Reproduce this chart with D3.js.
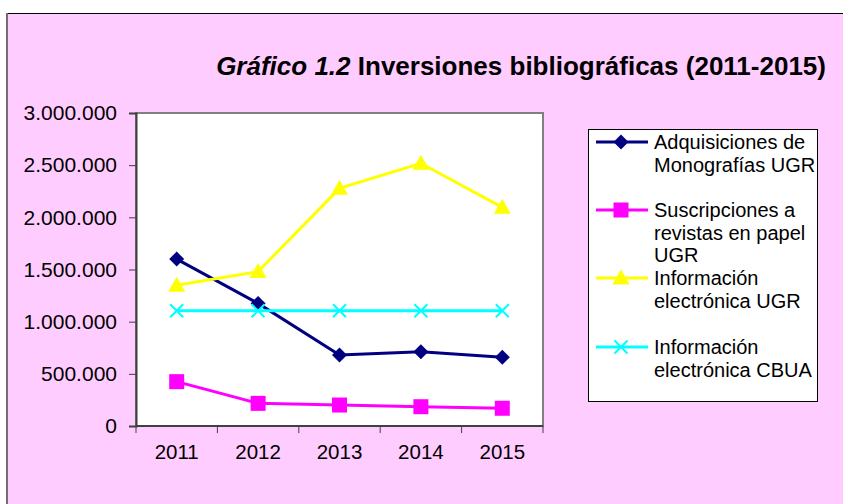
<!DOCTYPE html>
<html>
<head>
<meta charset="utf-8">
<script src="https://cdn.jsdelivr.net/npm/d3@7"></script>
<style>
  body { margin: 0; background: #fff; }
  svg { display: block; font-family: "Liberation Sans", Arial, sans-serif; }
</style>
</head>
<body>
<div id="chart"></div>
<script>
// data
const years = ["2011", "2012", "2013", "2014", "2015"];
const monografias = [1600000, 1175000, 680000, 712000, 658000];
const revistas = [425000, 217000, 201000, 185000, 170000];
const electronicaUGR = [1350000, 1480000, 2278000, 2518000, 2096000];
const electronicaCBUA = [1105000, 1105000, 1105000, 1105000, 1105000];
const yTicks = [0, 500000, 1000000, 1500000, 2000000, 2500000, 3000000];

const series = [
    { name: ["Adquisiciones de", "Monografías UGR"], values: monografias, color: "#000080", marker: "diamond" },
    { name: ["Suscripciones a", "revistas en papel", "UGR"], values: revistas, color: "#ff00ff", marker: "square" },
    { name: ["Información", "electrónica UGR"], values: electronicaUGR, color: "#ffff00", marker: "triangle" },
    { name: ["Información", "electrónica CBUA"], values: electronicaCBUA, color: "#00ffff", marker: "cross" }
];

const width = 843, height = 504;
const plot = { left: 136, right: 543, top: 113, bottom: 426 };

const svg = d3.select("#chart").append("svg")
    .attr("width", width)
    .attr("height", height);

// chart area background
svg.append("rect")
    .attr("x", 7).attr("y", 13.5)
    .attr("width", width).attr("height", height)
    .attr("fill", "#ffccff")
    .attr("stroke", "#000")
    .attr("stroke-width", 1);
svg.append("line")
    .attr("x1", 7).attr("x2", 7)
    .attr("y1", 13).attr("y2", height)
    .attr("stroke", "#707070").attr("stroke-width", 2);

// title
const title = svg.append("text")
    .attr("x", 826).attr("y", 75)
    .attr("text-anchor", "end")
    .attr("font-size", 26)
    .attr("font-weight", "bold")
    .attr("fill", "#000");
title.append("tspan").attr("font-style", "italic").text("Gráfico 1.2");
title.append("tspan").text(" Inversiones bibliográficas (2011-2015)");

const x = d3.scaleBand().domain(years).range([plot.left, plot.right]);
const y = d3.scaleLinear().domain([0, 3000000]).range([plot.bottom, plot.top]);

// plot area
svg.append("rect")
    .attr("x", plot.left).attr("y", plot.top)
    .attr("width", plot.right - plot.left).attr("height", plot.bottom - plot.top)
    .attr("fill", "#fff")
    .attr("stroke", "#808080")
    .attr("stroke-width", 2);

const fmt = v => d3.format(",")(v).replace(/,/g, ".");

// y axis
const yAxis = svg.append("g")
    .attr("transform", `translate(${plot.left},0)`)
    .call(d3.axisLeft(y).tickValues(yTicks).tickSize(7).tickFormat(fmt));
yAxis.select(".domain").attr("stroke", "#404040").attr("stroke-width", 2);
yAxis.selectAll(".tick line").attr("stroke", "#404040");
yAxis.selectAll(".tick text")
    .attr("x", -19)
    .attr("font-size", 21)
    .attr("font-family", "Liberation Sans, Arial, sans-serif")
    .attr("fill", "#000");

// x axis, ticks at band edges
const xAxis = svg.append("g")
    .attr("transform", `translate(0,${plot.bottom})`);
xAxis.append("line")
    .attr("x1", plot.left).attr("x2", plot.right)
    .attr("stroke", "#404040").attr("stroke-width", 2);
xAxis.selectAll(".xtick")
    .data(years.map(d => x(d)).concat([x(years[years.length - 1]) + x.bandwidth()]))
    .join("line")
    .attr("class", "xtick")
    .attr("x1", d => d).attr("x2", d => d)
    .attr("y1", 0).attr("y2", 7)
    .attr("stroke", "#404040");
xAxis.selectAll(".xlabel")
    .data(years)
    .join("text")
    .attr("class", "xlabel")
    .attr("x", d => x(d) + x.bandwidth() / 2)
    .attr("y", 33)
    .attr("text-anchor", "middle")
    .attr("font-size", 20.5)
    .text(d => d);

function drawMarker(g, type, color) {
    if (type === "diamond") {
        g.append("path").attr("d", "M0,-7.5L7.5,0L0,7.5L-7.5,0Z").attr("fill", color);
    } else if (type === "square") {
        g.append("rect").attr("x", -7.5).attr("y", -7.5).attr("width", 15).attr("height", 15).attr("fill", color);
    } else if (type === "triangle") {
        g.append("path").attr("d", "M0,-8.5L8.5,6.5L-8.5,6.5Z").attr("fill", color);
    } else {
        g.append("path").attr("d", "M-6.5,-6.5L6.5,6.5M-6.5,6.5L6.5,-6.5").attr("stroke", color).attr("stroke-width", 2);
    }
}

const line = d3.line()
    .x((d, i) => x(years[i]) + x.bandwidth() / 2)
    .y(d => y(d));

series.forEach(s => {
    svg.append("path")
        .datum(s.values)
        .attr("d", line)
        .attr("fill", "none")
        .attr("stroke", s.color)
        .attr("stroke-width", 3);
    s.values.forEach((v, i) => {
        const g = svg.append("g")
            .attr("transform", `translate(${x(years[i]) + x.bandwidth() / 2},${y(v)})`);
        drawMarker(g, s.marker, s.color);
    });
});

// legend
const legend = svg.append("g");
legend.append("rect")
    .attr("x", 588.5).attr("y", 129.5)
    .attr("width", 229).attr("height", 272)
    .attr("fill", "#fff")
    .attr("stroke", "#000");

const legendY = [142, 210, 278, 347];
series.forEach((s, i) => {
    const g = legend.append("g").attr("transform", `translate(0,${legendY[i]})`);
    g.append("line")
        .attr("x1", 596).attr("x2", 648)
        .attr("stroke", s.color).attr("stroke-width", 3);
    const m = g.append("g").attr("transform", "translate(621,0)");
    drawMarker(m, s.marker, s.color);
    const t = g.append("text")
        .attr("x", 654).attr("y", 7)
        .attr("font-size", 20)
        .attr("fill", "#000");
    s.name.forEach((txt, j) => {
        t.append("tspan").attr("x", 654).attr("dy", j === 0 ? 0 : 22.5).text(txt);
    });
});
</script>
</body>
</html>
